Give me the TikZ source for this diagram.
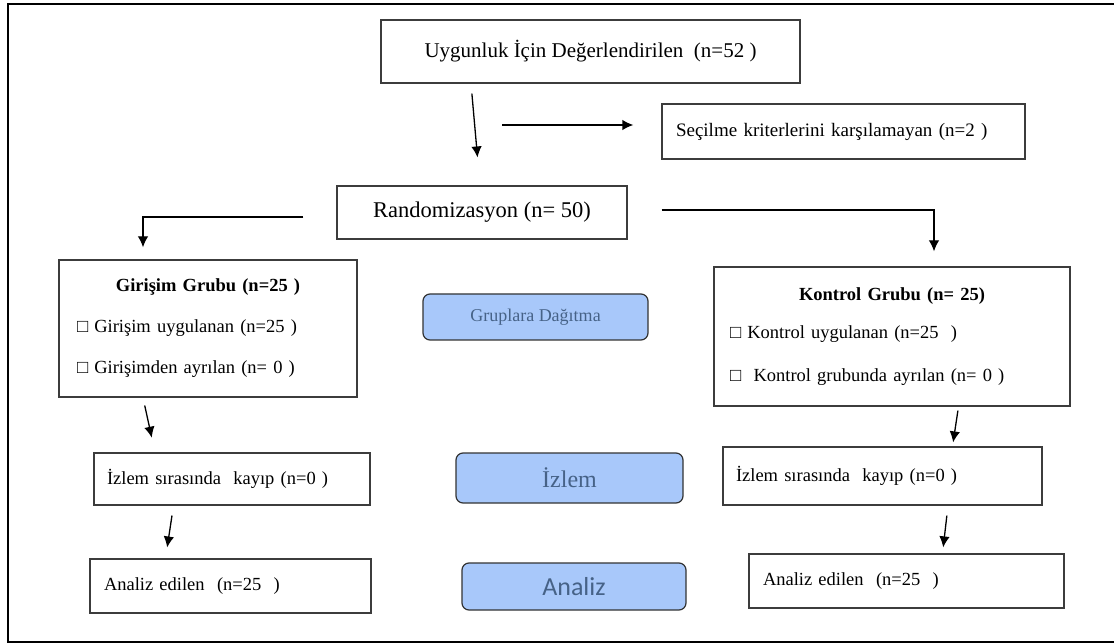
\documentclass[tikz,border=0pt]{standalone}
\usepackage{fontspec}
\setmainfont{Liberation Serif}
\newfontfamily\carlito{Carlito}
\usetikzlibrary{arrows.meta}
\definecolor{boxfill}{RGB}{168,200,250}
\definecolor{boxtext}{RGB}{70,98,135}
\definecolor{edge}{RGB}{60,60,60}
\begin{document}
\begin{tikzpicture}[x=1pt, y=-1pt, >={Latex[length=11pt,width=10.5pt]},
    every node/.style={font=\fontsize{18.5}{22}\selectfont},
    box/.style={draw=edge, line width=1.3pt, inner sep=0pt, align=center},
    lbox/.style={draw=edge, line width=1.3pt, inner ysep=0pt, align=left},
    grp/.style={lbox, font=\fontsize{18.5}{41}\selectfont},
    phase/.style={draw=black!80, line width=1.2pt, rounded corners=7pt, fill=boxfill, text=boxtext, inner sep=0pt}]
    \useasboundingbox (0,0) rectangle (1114,644);
    % outer frame, open on the right
    \draw[line width=2.2pt] (1120,4) -- (8,4) -- (8,642) -- (1120,642);
    % top of the chart
    \node[box, minimum width=419pt, minimum height=63pt, font=\fontsize{21}{24}\selectfont] (uyg) at (590.5,51.5) {Uygunluk İçin Değerlendirilen~ (n=52 )};
    \node[lbox, inner xsep=14pt, text width=335pt, minimum height=55pt, font=\fontsize{19}{22}\selectfont] (sec) at (843.5,131.5) {Seçilme kriterlerini karşılamayan (n=2 )};
    \node[box, minimum width=290pt, minimum height=53pt, font=\fontsize{22.5}{26}\selectfont] (rand) at (482,212.5) {Randomizasyon (n= 50)};
    % groups
    \node[grp, inner xsep=18pt, text width=262pt, minimum height=137pt] (gir) at (208,328.5)
        {\makebox[\hsize]{\bfseries Girişim Grubu (n=25 )}\\□ Girişim uygulanan (n=25 )\\□ Girişimden ayrılan (n= 0 )};
    \node[grp, inner xsep=16pt, text width=324pt, minimum height=139pt] (kon) at (892,336.5)
        {\makebox[\hsize]{\bfseries Kontrol Grubu (n= 25)}\\[-3pt]□ Kontrol uygulanan (n=25~ )\\[2pt]□~ Kontrol grubunda ayrılan (n= 0 )};
    \node[lbox, inner xsep=13pt, text width=250pt, minimum height=52pt] (izl1) at (232,479) {İzlem sırasında~ kayıp (n=0 )};
    \node[lbox, inner xsep=14pt, text width=253pt, minimum height=54pt] (ana1) at (230.5,586) {Analiz edilen~ (n=25~ )};
    \node[lbox, inner xsep=13pt, text width=293pt, minimum height=58pt] (izl2) at (882.5,476) {İzlem sırasında~ kayıp (n=0 )};
    \node[lbox, inner xsep=14pt, text width=287pt, minimum height=54pt] (ana2) at (906.5,581) {Analiz edilen~ (n=25~ )};
    % phase labels
    \node[phase, minimum width=225pt, minimum height=46pt, font=\fontsize{18}{22}\selectfont] (dag) at (535.5,317) {Gruplara Dağıtma};
    \node[phase, minimum width=227pt, minimum height=50pt, font=\fontsize{24}{28}\selectfont] (izlem) at (569.5,478) {İzlem};
    \node[phase, minimum width=224pt, minimum height=47pt, font=\carlito\fontsize{26}{30}\selectfont] (analiz) at (574,586.5) {Analiz};
    % connectors
    \coordinate (split) at (502,125);
    \draw[->, line width=1.3pt, shorten <=10pt, shorten >=28pt] ([xshift=-119.5pt]uyg.south) -- ([xshift=-2pt]rand.north);
    \draw[->, line width=1.3pt, shorten >=28pt] (split) -- ([yshift=6.5pt]sec.west);
    \draw[->, line width=1.3pt, shorten <=33pt, shorten >=12pt] ([yshift=-4.5pt]rand.west) -| ([xshift=-65pt]gir.north);
    \draw[->, line width=1.3pt, shorten <=34pt, shorten >=15pt] ([yshift=2.5pt]rand.east) -| ([xshift=42pt]kon.north);
    \draw[->, line width=1.3pt, shorten <=8pt, shorten >=15pt] ([xshift=-65pt]gir.south) -- ([xshift=-77pt]izl1.north);
    \draw[->, line width=1.3pt, shorten <=10pt, shorten >=11pt] ([xshift=-58.5pt]izl1.south) -- ([xshift=-65pt]ana1.north);
    \draw[->, line width=1.3pt, shorten <=4pt, shorten >=4pt] ([xshift=66.5pt]kon.south) -- ([xshift=70pt]izl2.north);
    \draw[->, line width=1.3pt, shorten <=10pt, shorten >=6pt] ([xshift=65.5pt]izl2.south) -- ([xshift=36pt]ana2.north);
\end{tikzpicture}
\end{document}
